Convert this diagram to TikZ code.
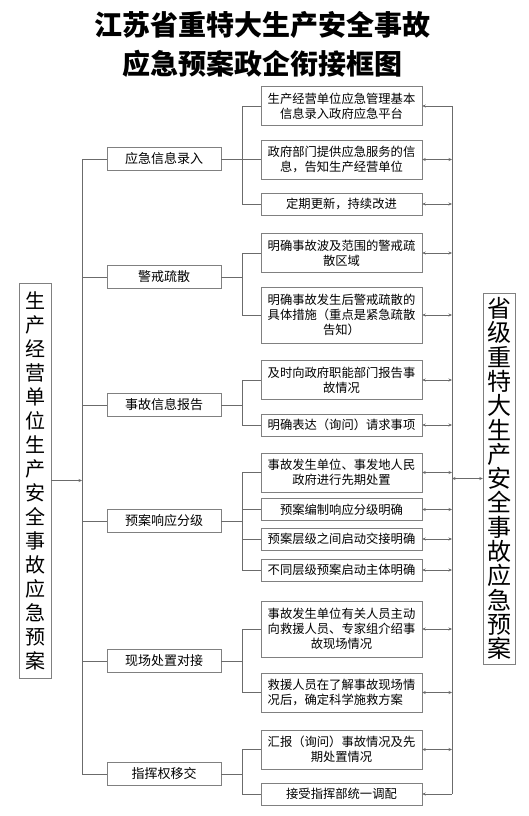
\documentclass[tikz,border=0pt]{standalone}
\usepackage{fontspec}
\setmainfont{Noto Sans CJK SC}
\usetikzlibrary{arrows.meta,positioning,calc}
\definecolor{linegray}{rgb}{0.42,0.42,0.42}
\definecolor{boxgray}{rgb}{0.5,0.5,0.5}
\tikzset{
  item/.style={draw=boxgray, rectangle, minimum width=161pt, inner sep=1pt, align=center, font=\fontsize{12.3}{15}\selectfont},
  hone/.style={minimum height=22pt},
  htwo/.style={minimum height=39pt},
  hthree/.style={minimum height=56pt},
  cat/.style={draw=boxgray, rectangle, minimum width=114pt, minimum height=23pt, inner sep=1pt, font=\fontsize{13}{15}\selectfont},
  side/.style={draw=boxgray, rectangle, minimum width=32pt, inner sep=0pt, align=center},
  conn/.style={draw=linegray, line width=0.8pt},
  >={Stealth[length=3.5pt,width=3pt]}
}

\begin{document}
\begin{tikzpicture}[x=1pt,y=-1pt]
    \useasboundingbox (0,0) rectangle (528,816);
    \node[font=\fontsize{28}{39}\selectfont\bfseries, align=center] (title) at (262,44) {江苏省重特大生产安全事故\\应急预案政企衔接框图};

    \node[side, minimum height=395pt, font=\fontsize{20}{24}\selectfont] (ent) at (35,480.5) {生\\产\\经\\营\\单\\位\\生\\产\\安\\全\\事\\故\\应\\急\\预\\案};
    \node[side, minimum height=371pt, font=\fontsize{24}{24.3}\selectfont] (gov) at (499,478.5) {省\\级\\重\\特\\大\\生\\产\\安\\全\\事\\故\\应\\急\\预\\案};

    \node[cat] (c1) at (164,159) {应急信息录入};
    \node[cat] (c2) at (164,277) {警戒疏散};
    \node[cat] (c3) at (164,405) {事故信息报告};
    \node[cat] (c4) at (164,521) {预案响应分级};
    \node[cat] (c5) at (164,661) {现场处置对接};
    \node[cat] (c6) at (164,774) {指挥权移交};

    \node[item,htwo] (r1) at (341.5,106) {生产经营单位应急管理基本\\信息录入政府应急平台};
    \node[item,htwo] (r2) at (341.5,159.5) {政府部门提供应急服务的信\\息，告知生产经营单位};
    \node[item,hone] (r3) at (341.5,204) {定期更新，持续改进};
    \node[item,htwo] (r4) at (341.5,253) {明确事故波及范围的警戒疏\\散区域};
    \node[item,hthree] (r5) at (341.5,315) {明确事故发生后警戒疏散的\\具体措施（重点是紧急疏散\\告知）};
    \node[item,htwo] (r6) at (341.5,380) {及时向政府职能部门报告事\\故情况};
    \node[item,hone] (r7) at (341.5,425) {明确表达（询问）请求事项};
    \node[item,htwo] (r8) at (341.5,472.5) {事故发生单位、事发地人民\\政府进行先期处置};
    \node[item,hone] (r9) at (341.5,509.5) {预案编制响应分级明确};
    \node[item,hone] (r10) at (341.5,539) {预案层级之间启动交接明确};
    \node[item,hone] (r11) at (341.5,570) {不同层级预案启动主体明确};
    \node[item,hthree] (r12) at (341.5,629) {事故发生单位有关人员主动\\向救援人员、专家组介绍事\\故现场情况};
    \node[item,htwo,align=left] (r13) at (341.5,692.5) {救援人员在了解事故现场情\\况后，确定科学施救方案};
    \node[item,htwo] (r14) at (341.5,749.5) {汇报（询问）事故情况及先\\期处置情况};
    \node[item,hone] (r15) at (341.5,794) {接受指挥部统一调配};

    % trunk on the left
    \coordinate (tr) at (82,0);
    \draw[conn] (c1.west -| tr) -- (c6.west -| tr);
    \foreach \i in {1,...,6}
        \draw[conn] (c\i.west) -- (c\i.west -| tr);
    \draw[conn,->] (ent.east) -- (ent.east -| tr);

    % branches to the items
    \coordinate (br) at (242,0);
    \foreach \i in {1,...,6}
        \draw[conn] (c\i.east) -- (c\i.east -| br);
    \draw[conn] (r1.west) -- (r1.west -| br) |- (r3.west);
    \draw[conn] (r2.west) -- (r2.west -| br);
    \draw[conn] (r4.west) -- (r4.west -| br) |- (r5.west);
    \draw[conn] (r6.west) -- (r6.west -| br) |- (r7.west);
    \draw[conn] (r8.west) -- (r8.west -| br) |- (r11.west);
    \draw[conn] (r9.west) -- (r9.west -| br);
    \draw[conn] (r10.west) -- (r10.west -| br);
    \draw[conn] (r12.west) -- (r12.west -| br) |- (r13.west);
    \draw[conn] (r14.west) -- (r14.west -| br) |- (r15.west);

    % right side
    \coordinate (rv) at (452,0);
    \draw[conn] (r1.east -| rv) -- (r15.east -| rv);
    \draw[conn,<-] (r1.east) -- (r1.east -| rv);
    \foreach \i in {2,...,14}
        \draw[conn,<->] (r\i.east) -- (r\i.east -| rv);
    \draw[conn,<-] (r15.east) -- (r15.east -| rv);
    \draw[conn,<->] (gov.west) -- (gov.west -| rv);
\end{tikzpicture}
\end{document}
